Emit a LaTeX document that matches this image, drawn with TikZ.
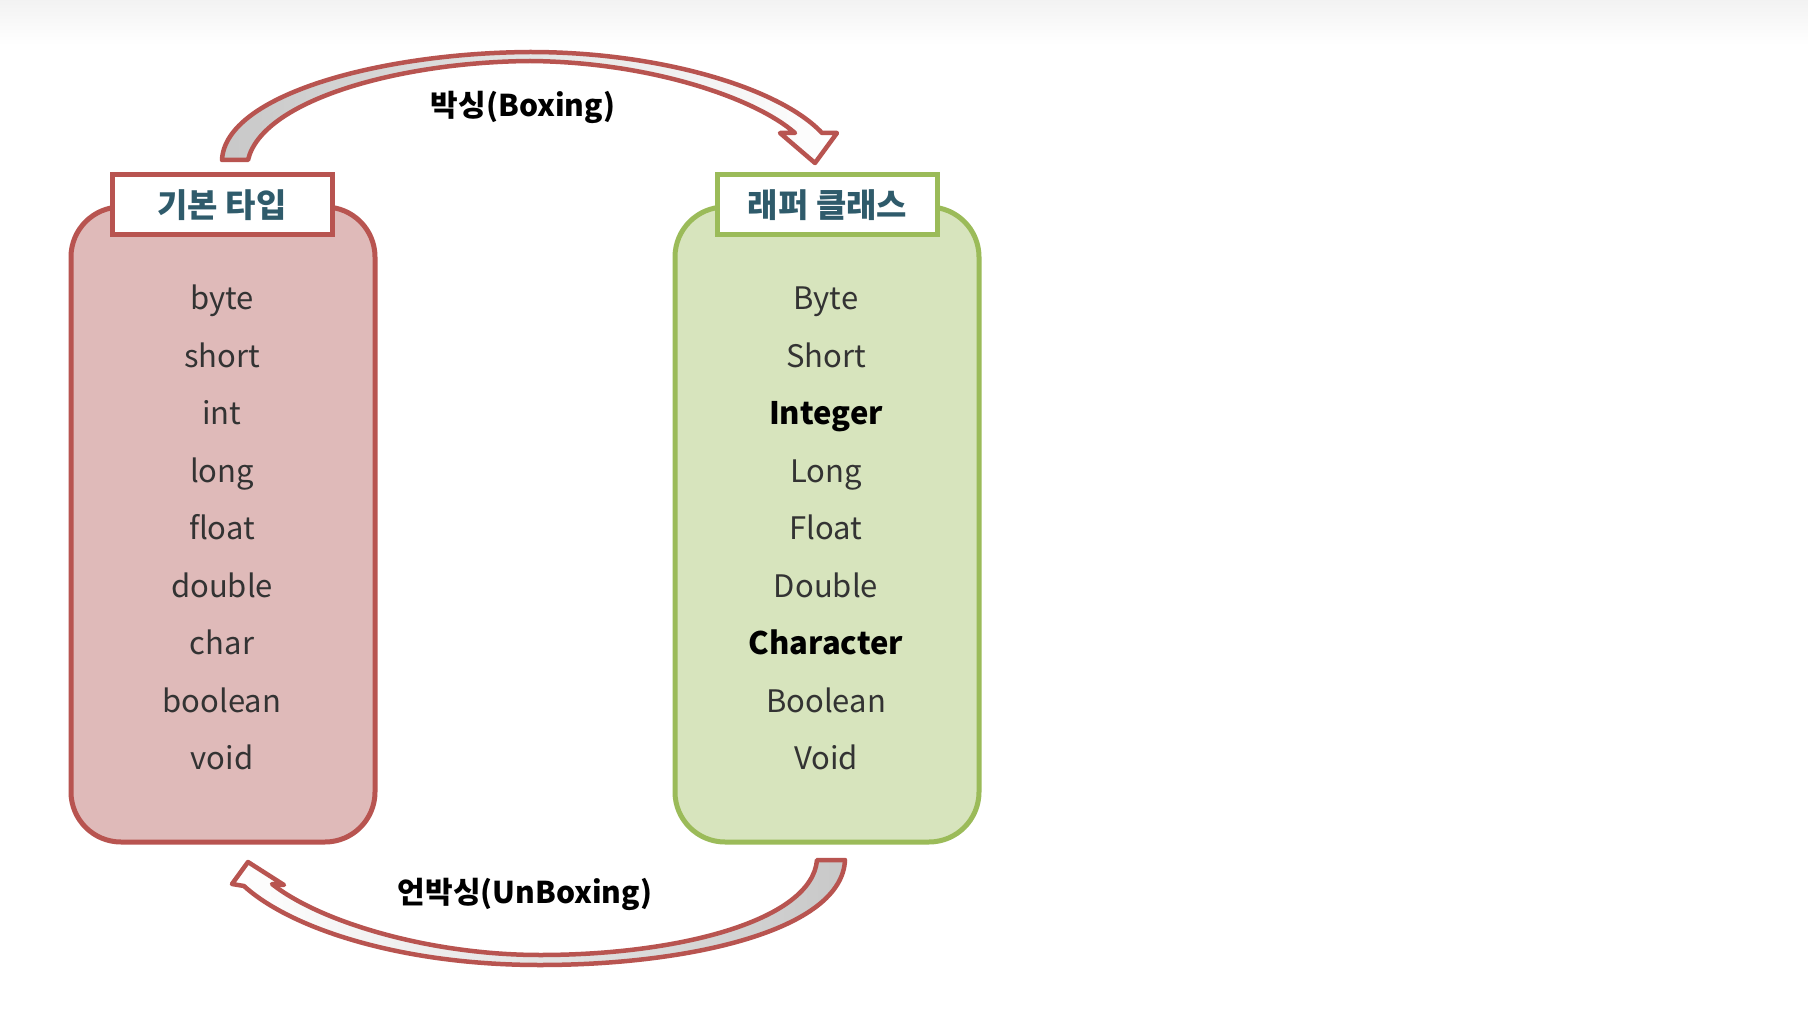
\documentclass[tikz,border=0pt]{standalone}
\usepackage{fontspec}
\setmainfont{Noto Sans CJK KR}
\definecolor{redline}{HTML}{B85450}
\definecolor{redfill}{HTML}{DFBAB9}
\definecolor{greenline}{HTML}{9BBB59}
\definecolor{greenfill}{HTML}{D7E4BD}
\definecolor{titletxt}{HTML}{2F5B6B}
\definecolor{itemtxt}{HTML}{333333}
\definecolor{arrowgray}{HTML}{C8C8C8}
\begin{document}
\begin{tikzpicture}[x=1pt,y=-1pt,
  panel/.style={rounded corners=50pt, line width=5pt, minimum width=304pt, minimum height=635pt, inner sep=0pt},
  titlebox/.style={fill=white, line width=5pt, minimum width=220pt, minimum height=60pt, inner sep=0pt,
     text=titletxt, font=\fontsize{33}{38}\selectfont\bfseries},
  item/.style={anchor=base, text=itemtxt, font=\fontsize{31}{36}\selectfont, inner sep=0pt},
  bolditem/.style={item, text=black, font=\fontsize{31}{36}\selectfont\bfseries},
  arrowshape/.style={draw=redline, line width=4.5pt, line join=round},
  lbl/.style={font=\fontsize{30}{36}\selectfont\bfseries, text=black, inner sep=0pt}]
\useasboundingbox (0,0) rectangle (1808,1016);
\fill[white] (0,0) rectangle (1808,1016);
\shade[top color=black!5, bottom color=white] (0,0) rectangle (1808,45);

% panels
\node[panel, draw=redline, fill=redfill] (prim) at (223,524.5) {};
\node[panel, draw=greenline, fill=greenfill] (wrap) at (827,524.5) {};

% titles
\node[titlebox, draw=redline] (primtitle) at (222,205) {기본 타입};
\node[titlebox, draw=greenline] (wraptitle) at (827.5,205) {래퍼 클래스};

% items
\foreach \t [count=\i from 0] in {byte,short,int,long,float,double,char,boolean,void}
  \node[item] (p\i) at (222,309.5+57.5*\i) {\t};
\node[item] (w0) at (826,309.5) {Byte};
\node[item] (w1) at (826,367) {Short};
\node[bolditem] (w2) at (826,424.5) {Integer};
\node[item] (w3) at (826,482) {Long};
\node[item] (w4) at (826,539.5) {Float};
\node[item] (w5) at (826,597) {Double};
\node[bolditem] (w6) at (826,654.5) {Character};
\node[item] (w7) at (826,712) {Boolean};
\node[item] (w8) at (826,769.5) {Void};

% boxing arrow (top)
\path[arrowshape, left color=arrowgray, middle color=white, right color=white]
  (222,160) .. controls (225,95) and (380,53) .. (530,52)
  .. controls (660,52) and (780,88) .. (822,133)
  -- (837,133) -- (815,163) -- (780,133) -- (795,133)
  .. controls (755,98) and (650,62) .. (530,61)
  .. controls (400,62) and (262,100) .. (248,160) -- cycle;
\node[lbl] (boxing) at (523,107) {박싱(Boxing)};

% unboxing arrow (bottom)
\path[arrowshape, right color=arrowgray, middle color=white, left color=white]
  (845,860) .. controls (842,930) and (690,965) .. (540,965)
  .. controls (400,965) and (290,928) .. (244,886)
  -- (232,884) -- (248,862) -- (284,885) -- (272,884)
  .. controls (320,922) and (430,955) .. (540,955)
  .. controls (680,955) and (812,920) .. (817,860) -- cycle;
\node[lbl] (unboxing) at (525,894) {언박싱(UnBoxing)};
\end{tikzpicture}
\end{document}
